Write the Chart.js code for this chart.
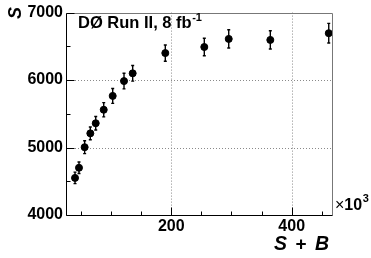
<!DOCTYPE html>
<html>
<head>
<meta charset="utf-8">
<script src="https://cdn.jsdelivr.net/npm/chart.js@4"></script>
<style>
  body { margin: 0; background: #fff; }
  #wrap { width: 371px; height: 258px; }
</style>
</head>
<body>
<div id="wrap"><canvas id="chart" width="371" height="258"></canvas></div>
<script>
// S+B (x10^3) and S values
const sumSB = [40, 46.6, 56, 65.4, 74.4, 87.7, 102.6, 121.4, 135.8, 190, 254.8, 295.4, 364.5, 461.6];
const signal = [4550, 4700, 5005, 5210, 5360, 5560, 5765, 5985, 6100, 6400, 6490, 6610, 6595, 6695];
const signalErr = [85, 85, 95, 95, 100, 105, 110, 115, 115, 120, 130, 135, 135, 145];

const xTicks = [50, 100, 150, 200, 250, 300, 350, 400, 450];
const yTicks = [4000, 4500, 5000, 5500, 6000, 6500, 7000];
const xGrid = [200, 400];
const yGrid = [5000, 6000];

const FONT = '"Liberation Sans", Arial, sans-serif';

const points = sumSB.map((x, i) => ({ x: x, y: signal[i] }));

const rootStyle = {
  id: "rootStyle",
  beforeDatasetsDraw(chart) {
    const { ctx, chartArea: a, scales: { x, y } } = chart;
    ctx.save();
    // dotted grid
    ctx.strokeStyle = "#8a8a8a";
    ctx.lineWidth = 1;
    ctx.setLineDash([1, 2]);
    xGrid.forEach((v) => {
      const px = Math.round(x.getPixelForValue(v)) + 0.5;
      ctx.beginPath();
      ctx.moveTo(px, a.top);
      ctx.lineTo(px, a.bottom);
      ctx.stroke();
    });
    yGrid.forEach((v) => {
      const py = Math.round(y.getPixelForValue(v)) + 0.5;
      ctx.beginPath();
      ctx.moveTo(a.left, py);
      ctx.lineTo(a.right, py);
      ctx.stroke();
    });
    ctx.setLineDash([]);

    // error bars
    ctx.strokeStyle = "#000";
    ctx.lineWidth = 1.4;
    points.forEach((p, i) => {
      const px = x.getPixelForValue(p.x);
      const top = y.getPixelForValue(p.y + signalErr[i]);
      const bot = y.getPixelForValue(p.y - signalErr[i]);
      ctx.beginPath();
      ctx.moveTo(px, top);
      ctx.lineTo(px, bot);
      ctx.moveTo(px - 1.5, top);
      ctx.lineTo(px + 1.5, top);
      ctx.moveTo(px - 1.5, bot);
      ctx.lineTo(px + 1.5, bot);
      ctx.stroke();
    });
    ctx.restore();
  },
  afterDraw(chart) {
    const { ctx, chartArea: a, scales: { x, y } } = chart;
    const L = Math.round(a.left) + 0.5;
    const B = Math.round(a.bottom) + 0.5;
    const T = Math.round(a.top) + 0.5;
    const R = Math.round(a.right) + 0.5;
    ctx.save();
    // frame
    ctx.lineWidth = 1;
    ctx.strokeStyle = "#777";
    ctx.beginPath();
    ctx.moveTo(L, T);
    ctx.lineTo(R, T);
    ctx.lineTo(R, B);
    ctx.stroke();
    ctx.strokeStyle = "#000";
    ctx.beginPath();
    ctx.moveTo(L, T);
    ctx.lineTo(L, B);
    ctx.lineTo(R, B);
    ctx.stroke();

    // inward ticks
    ctx.beginPath();
    yTicks.forEach((v) => {
      const py = Math.round(y.getPixelForValue(v)) + 0.5;
      const len = v % 1000 === 0 ? 8 : 4;
      ctx.moveTo(L, py);
      ctx.lineTo(L + len, py);
    });
    xTicks.forEach((v) => {
      const px = Math.round(x.getPixelForValue(v)) + 0.5;
      const len = v % 200 === 0 ? 8 : 4;
      ctx.moveTo(px, B);
      ctx.lineTo(px, B - len);
    });
    ctx.stroke();

    // texts
    ctx.fillStyle = "#000";
    ctx.textBaseline = "alphabetic";
    ctx.textAlign = "left";
    ctx.font = "bold 16.5px " + FONT;
    const main = "DØ Run II, 8 fb";
    ctx.fillText(main, 78, 28);
    const w = ctx.measureText(main).width;
    ctx.font = "bold 11px " + FONT;
    ctx.fillText("-1", 78 + w + 0.5, 21);

    // x10^3
    ctx.font = "16px " + FONT;
    ctx.fillText("×", 335, 210);
    let cx = 335 + ctx.measureText("×").width;
    ctx.font = "bold 16px " + FONT;
    ctx.fillText("10", cx, 210);
    cx += ctx.measureText("10").width;
    ctx.font = "bold 11px " + FONT;
    ctx.fillText("3", cx + 0.5, 202);

    // x title
    ctx.font = "italic bold 19.5px " + FONT;
    ctx.fillText("S", 274, 250);
    ctx.fillText("B", 315, 250);
    ctx.font = "bold 19px " + FONT;
    ctx.textAlign = "center";
    ctx.fillText("+", 301, 250);

    // y title
    ctx.translate(20.5, 13);
    ctx.rotate(-Math.PI / 2);
    ctx.font = "italic bold 18px " + FONT;
    ctx.textAlign = "center";
    ctx.fillText("S", 0, 0);
    ctx.restore();
  },
};

new Chart(document.getElementById("chart"), {
  type: "scatter",
  data: {
    datasets: [
      {
        data: points,
        backgroundColor: "#000",
        borderColor: "#000",
        pointRadius: 3.5,
        pointHoverRadius: 3.5,
      },
    ],
  },
  options: {
    responsive: false,
    animation: false,
    events: [],
    layout: { padding: { top: 9, right: 39, left: 0, bottom: 0 } },
    plugins: { legend: { display: false }, tooltip: { enabled: false } },
    scales: {
      x: {
        type: "linear",
        min: 25,
        max: 467,
        afterBuildTicks: (s) => { s.ticks = xTicks.map((v) => ({ value: v })); },
        afterFit: (s) => { s.height = 43; },
        grid: { display: false, drawTicks: false },
        border: { display: false },
        ticks: {
          autoSkip: false,
          maxRotation: 0,
          padding: 2,
          color: "#000",
          font: { family: FONT, size: 16, weight: "bold" },
          callback: (v) => (v % 200 === 0 ? String(v) : ""),
        },
      },
      y: {
        min: 4000,
        max: 7000,
        afterBuildTicks: (s) => { s.ticks = yTicks.map((v) => ({ value: v })); },
        afterFit: (s) => { s.width = 66; },
        grid: { display: false, drawTicks: false },
        border: { display: false },
        ticks: {
          autoSkip: false,
          padding: 3,
          color: "#000",
          font: { family: FONT, size: 16, weight: "bold" },
          callback: (v) => (v % 1000 === 0 ? String(v) : ""),
        },
      },
    },
  },
  plugins: [rootStyle],
});
</script>
</body>
</html>
